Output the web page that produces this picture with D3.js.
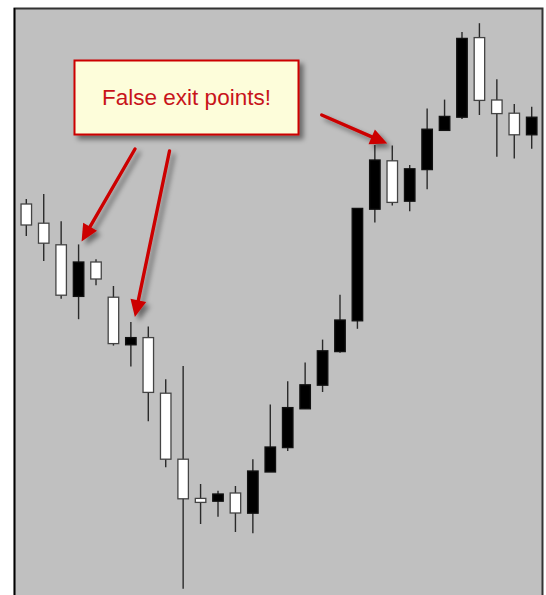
<!DOCTYPE html>
<html>
<head>
<meta charset="utf-8">
<script src="https://cdn.jsdelivr.net/npm/d3@7"></script>
<style>
  body { margin: 0; background: #fff; overflow: hidden; }
  svg { display: block; }
</style>
</head>
<body>
<svg width="546" height="595"></svg>
<script>
const width = 546
const height = 595

// bar numbers, one per candle
const bars = [1,2,3,4,5,6,7,8,9,10,11,12,13,14,15,16,17,18,19,20,21,22,23,24,25,26,27,28,29,30]
// prices (arbitrary units)
const opens  = [99.0,94.2,88.8,75.9,84.5,75.7,63.8,65.6,51.7,35.2,25.4,24.7,26.75,21.7,32.0,38.1,47.8,53.7,62.1,69.8,97.7,109.8,99.7,107.6,117.4,120.7,140.6,125.0,121.7,116.3]
const highs  = [100.25,101.5,94.7,88.9,85.2,78.5,69.5,68.4,55.2,58.5,29.0,27.3,28.5,35.2,48.9,54.7,59.4,65.1,76.3,97.9,113.75,113.6,108.75,122.9,125.1,142.0,144.2,130.2,124.0,123.3]
const lows   = [91.0,84.75,75.3,70.2,78.7,63.6,58.4,44.7,33.2,2.8,19.0,20.8,17.0,16.7,32.0,37.25,47.8,52.0,61.8,67.8,94.4,98.6,97.2,102.7,117.25,120.25,121.25,110.8,110.4,112.8]
const closes = [93.75,89.2,76.2,84.5,80.25,64.1,65.6,51.9,35.2,25.3,24.4,26.5,21.75,32.25,38.25,48.1,53.8,62.3,70.0,97.9,110.0,99.4,107.8,117.7,120.9,140.4,124.9,121.6,116.3,120.7]

// the callout and the bars its arrows point at
const calloutText = "False exit points!"
const arrowBars = [4, 7, 22]

const svg = d3.select("svg")
const defs = svg.append("defs")

const shadow = defs.append("filter").attr("id", "shadow")
    .attr("x", "-20%").attr("y", "-20%").attr("width", "150%").attr("height", "150%")
shadow.append("feDropShadow").attr("dx", 4).attr("dy", 4).attr("stdDeviation", 2.5)
    .attr("flood-color", "#000").attr("flood-opacity", 0.45)

// chart panel
svg.append("rect").attr("x", 14.5).attr("y", 8.5).attr("width", 528).attr("height", 600)
    .attr("fill", "#c0c0c0").attr("stroke", "#333").attr("stroke-width", 2)
svg.append("line").attr("x1", 14.5).attr("x2", 14.5).attr("y1", 8).attr("y2", 595)
    .attr("stroke", "#000").attr("stroke-width", 1.5)

const x = d3.scalePoint().domain(bars).range([26.3, 531.7])
const y = d3.scaleLinear().domain([0, 150]).range([600, 0])

const candles = bars.map((b, i) => ({bar: b, o: opens[i], h: highs[i], l: lows[i], c: closes[i]}))

const g = svg.append("g")
g.selectAll("line.wick").data(candles).enter().append("line")
    .attr("class", "wick")
    .attr("x1", d => x(d.bar)).attr("x2", d => x(d.bar))
    .attr("y1", d => y(d.h)).attr("y2", d => y(d.l))
    .attr("stroke", "#2a2a2a").attr("stroke-width", 1.4)

const bodyW = 10.5
g.selectAll("rect.body").data(candles).enter().append("rect")
    .attr("class", "body")
    .attr("x", d => x(d.bar) - bodyW / 2)
    .attr("width", bodyW)
    .attr("y", d => y(Math.max(d.o, d.c)))
    .attr("height", d => Math.max(1, Math.abs(y(d.o) - y(d.c))))
    .attr("fill", d => d.c > d.o ? "#000" : "#fff")
    .attr("stroke", d => d.c > d.o ? "#111" : "#444")
    .attr("stroke-width", 1.3)

// arrows: tails sit under the callout, tips next to the bar highs
const tails = [[135, 149], [169.5, 151], [321.7, 115]]
const tipOffsets = [[3, -3], [4, -5], [-5, -2]]
const red = "#cc0000"

arrowBars.forEach((b, i) => {
    const d = candles[bars.indexOf(b)]
    const tip = [x(b) + tipOffsets[i][0], y(d.h) + tipOffsets[i][1]]
    const tail = tails[i]
    const dx = tip[0] - tail[0], dy = tip[1] - tail[1]
    const len = Math.sqrt(dx * dx + dy * dy)
    const ux = dx / len, uy = dy / len
    const headL = 17, headW = 8
    const bx = tip[0] - headL * ux, by = tip[1] - headL * uy
    const a = svg.append("g").attr("filter", "url(#shadow)")
    a.append("line")
        .attr("x1", tail[0]).attr("y1", tail[1])
        .attr("x2", bx + 2 * ux).attr("y2", by + 2 * uy)
        .attr("stroke", red).attr("stroke-width", 3.4).attr("stroke-linecap", "round")
    a.append("path")
        .attr("d", d3.line()([tip, [bx - headW * uy, by + headW * ux], [bx + headW * uy, by - headW * ux]]) + "Z")
        .attr("fill", red)
})

// callout box
const box = svg.append("g")
box.append("rect").attr("x", 74.5).attr("y", 60.5).attr("width", 224).attr("height", 74)
    .attr("fill", "#fdfdda").attr("stroke", red).attr("stroke-width", 2)
    .attr("filter", "url(#shadow)")
box.append("text").attr("x", 186.5).attr("y", 104.5)
    .attr("text-anchor", "middle")
    .attr("font-family", "Liberation Sans, Arial, sans-serif")
    .attr("font-size", 22.5)
    .attr("fill", "#c8141a")
    .text(calloutText)
</script>
</body>
</html>
